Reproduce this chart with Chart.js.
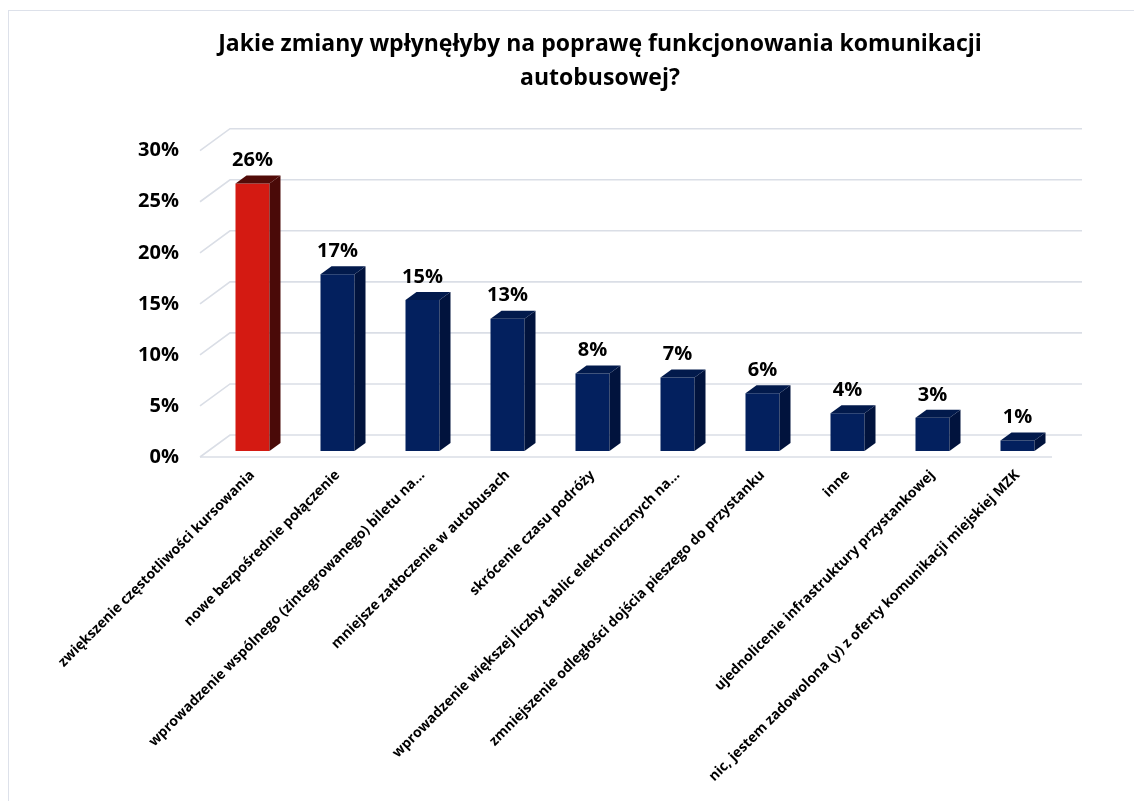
<!DOCTYPE html>
<html>
<head>
<meta charset="utf-8">
<script src="https://cdn.jsdelivr.net/npm/chart.js@4"></script>
<style>
  body { margin: 0; background: #fff; }
  #frame { position: absolute; left: 8px; top: 10px; width: 1200px; height: 900px; border: 1.5px solid #dde1ea; }
  #wrap { position: absolute; left: 0; top: 0; width: 1134px; height: 801px; }
</style>
</head>
<body>
<div id="frame"></div>
<div id="wrap"><canvas id="chart"></canvas></div>
<script>
// Data
const categories = [
  "zwiększenie częstotliwości kursowania",
  "nowe bezpośrednie połączenie",
  "wprowadzenie wspólnego (zintegrowanego) biletu na...",
  "mniejsze zatłoczenie w autobusach",
  "skrócenie czasu podróży",
  "wprowadzenie większej liczby tablic elektronicznych na...",
  "zmniejszenie odległości dojścia pieszego do przystanku",
  "inne",
  "ujednolicenie infrastruktury przystankowej",
  "nic, jestem zadowolona (y) z oferty komunikacji miejskiej MZK"
];
const shares = [26.2, 17.3, 14.8, 12.95, 7.6, 7.2, 5.65, 3.7, 3.25, 1.04];
const yTicks = [0, 5, 10, 15, 20, 25, 30];

const FONT = "'Open Sans', 'Noto Sans', sans-serif";
const DEPTH_X = 11;
const DEPTH_Y = 8;
const LIFT = 6;

// front / side / top colours per bar
const frontColors = shares.map((v, i) => i === 0 ? "#d41a12" : "#03205e");
const sideColors = shares.map((v, i) => i === 0 ? "#4a0a08" : "#01133d");
const topColors = shares.map((v, i) => i === 0 ? "#520b08" : "#021a4c");

// 3D grid (back wall + floor)
const gridPlugin = {
  id: "grid3d",
  beforeDatasetsDraw(chart) {
    const { ctx, chartArea, scales } = chart;
    const y = scales.y;
    ctx.save();
    ctx.strokeStyle = "#dadee6";
    ctx.lineWidth = 1.6;
    yTicks.forEach(t => {
      const py = y.getPixelForValue(t);
      ctx.beginPath();
      ctx.moveTo(chartArea.left - 10, py);
      ctx.lineTo(chartArea.left + 20, py - 22);
      ctx.lineTo(chartArea.right + 22, py - 22);
      ctx.stroke();
    });
    const p0 = y.getPixelForValue(0);
    ctx.beginPath();
    ctx.moveTo(chartArea.left - 10, p0);
    ctx.lineTo(chartArea.right - 8, p0);
    ctx.stroke();
    ctx.restore();

    ctx.save();
    ctx.translate(0, -LIFT);
  },
  afterDatasetsDraw(chart) {
    const { ctx } = chart;
    const meta = chart.getDatasetMeta(0);
    meta.data.forEach((bar, i) => {
      const half = bar.width / 2;
      const l = bar.x - half, r = bar.x + half;
      const top = bar.y, base = bar.base;
      // side face
      ctx.fillStyle = sideColors[i];
      ctx.beginPath();
      ctx.moveTo(r, top);
      ctx.lineTo(r + DEPTH_X, top - DEPTH_Y);
      ctx.lineTo(r + DEPTH_X, base - DEPTH_Y);
      ctx.lineTo(r, base);
      ctx.closePath();
      ctx.fill();
      // top face
      ctx.fillStyle = topColors[i];
      ctx.beginPath();
      ctx.moveTo(l, top);
      ctx.lineTo(l + DEPTH_X, top - DEPTH_Y);
      ctx.lineTo(r + DEPTH_X, top - DEPTH_Y);
      ctx.lineTo(r, top);
      ctx.closePath();
      ctx.fill();
      // value label
      ctx.fillStyle = "#000";
      ctx.font = "bold 20px " + FONT;
      ctx.textAlign = "center";
      ctx.textBaseline = "middle";
      ctx.fillText(Math.round(shares[i]) + "%", bar.x, top - 23);
    });
    ctx.restore();
  }
};

new Chart(document.getElementById("chart"), {
  type: "bar",
  data: {
    labels: categories,
    datasets: [{
      data: shares,
      backgroundColor: frontColors,
      borderWidth: 0,
      barPercentage: 0.4,
      categoryPercentage: 1
    }]
  },
  options: {
    responsive: true,
    maintainAspectRatio: false,
    animation: false,
    layout: { padding: { top: 10, left: 66, right: 0, bottom: 0 } },
    plugins: {
      legend: { display: false },
      tooltip: { enabled: false },
      title: {
        display: true,
        text: ["Jakie zmiany wpłynęłyby na poprawę funkcjonowania komunikacji", "autobusowej?"],
        color: "#000",
        font: { family: FONT, size: 23, weight: "bold", lineHeight: 1.45 },
        padding: { top: 18, bottom: 56 }
      }
    },
    scales: {
      x: {
        grid: { display: false, drawTicks: false },
        border: { display: false },
        ticks: {
          color: "#000",
          font: { family: FONT, size: 14, weight: "bold" },
          minRotation: 45,
          maxRotation: 45,
          autoSkip: false,
          padding: 10
        },
        afterFit: s => { s.height = 344; }
      },
      y: {
        min: 0,
        max: 30,
        grid: { display: false, drawTicks: false },
        border: { display: false },
        ticks: {
          stepSize: 5,
          color: "#000",
          padding: 31,
          font: { family: FONT, size: 20, weight: "bold" },
          callback: v => v + "%"
        },
        afterFit: s => { s.width = 144; }
      },
      y2: {
        position: "right",
        grid: { display: false, drawTicks: false },
        border: { display: false },
        ticks: { display: false },
        afterFit: s => { s.width = 74; }
      }
    }
  },
  plugins: [gridPlugin]
});
</script>
</body>
</html>
